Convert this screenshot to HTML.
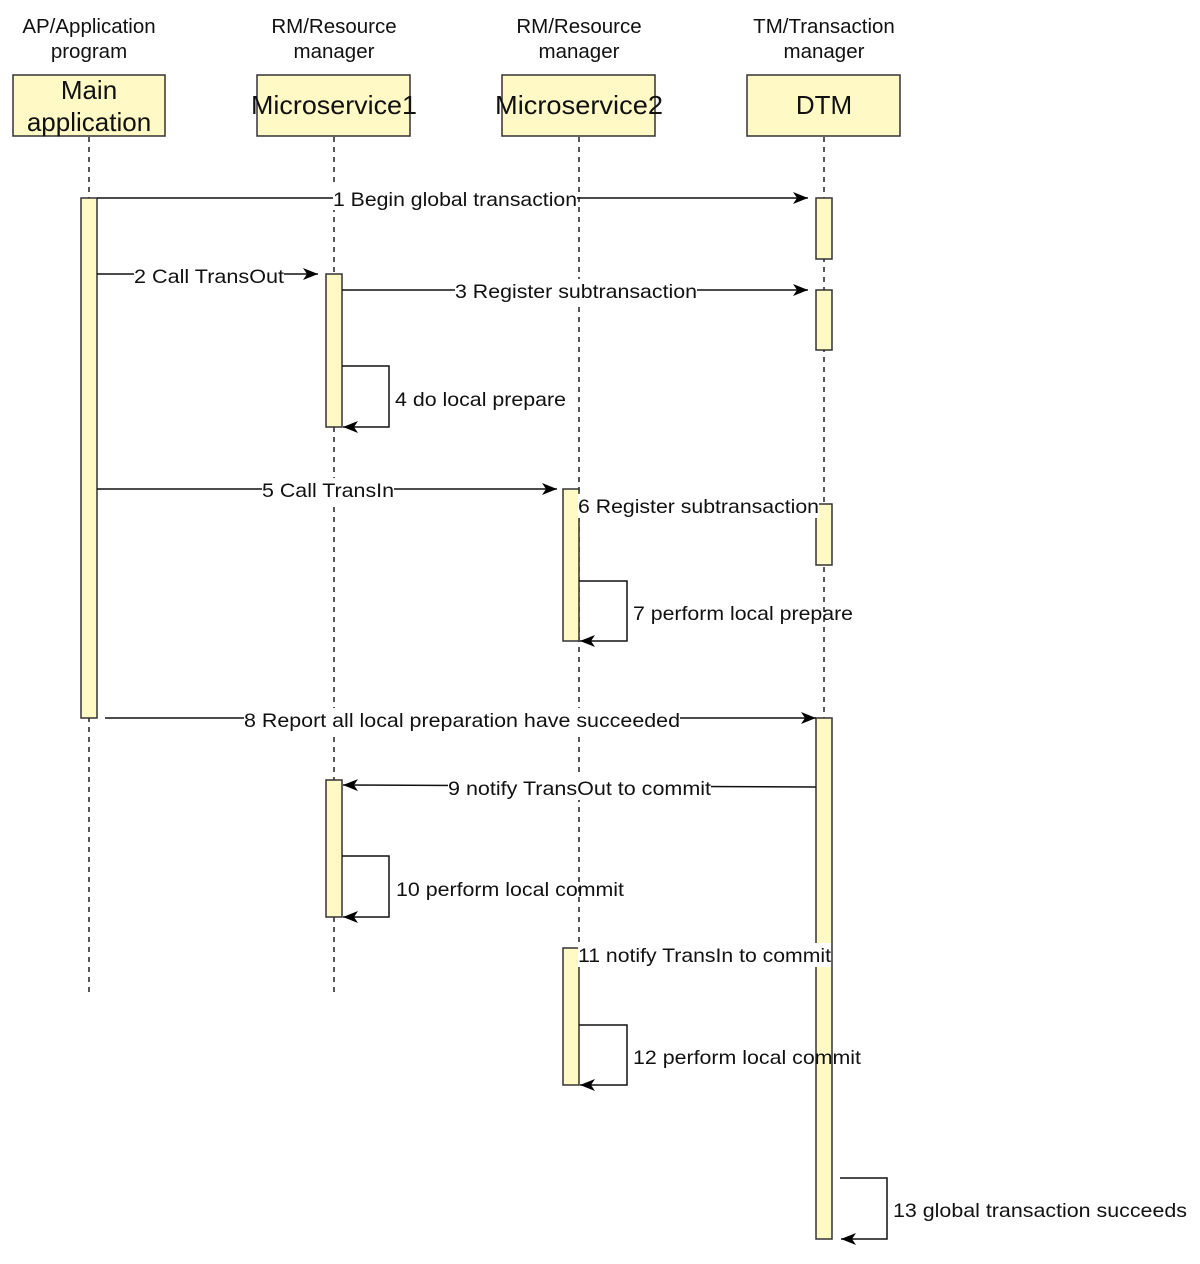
<!DOCTYPE html>
<html><head><meta charset="utf-8"><style>
html,body{margin:0;padding:0;background:#fff;}
svg{display:block;}
text{font-family:"Liberation Sans",Arial,sans-serif;fill:#111;}
</style></head><body>
<svg width="1200" height="1264" viewBox="0 0 1200 1264" xmlns="http://www.w3.org/2000/svg">
<defs>
<marker id="a" markerWidth="16" markerHeight="14" refX="15" refY="7" orient="auto" markerUnits="userSpaceOnUse">
<path d="M0,1 L15,7 L0,13 L4,7 Z" fill="#000"/>
</marker>
</defs>
<g font-size="20.5" text-anchor="middle">
<text x="89" y="33">AP/Application</text><text x="89" y="58">program</text>
<text x="334" y="33">RM/Resource</text><text x="334" y="58">manager</text>
<text x="579" y="33">RM/Resource</text><text x="579" y="58">manager</text>
<text x="824" y="33">TM/Transaction</text><text x="824" y="58">manager</text>
</g>
<g stroke="#222" stroke-width="1.5" stroke-dasharray="5,5" fill="none">
<line x1="89" y1="137" x2="89" y2="994"/>
<line x1="334" y1="137" x2="334" y2="994"/>
<line x1="579" y1="137" x2="579" y2="948"/>
<line x1="824" y1="137" x2="824" y2="718"/>
</g>
<g fill="#fff9c6" stroke="#333" stroke-width="1.5">
<rect x="13" y="75" width="152" height="61"/>
<rect x="257" y="75" width="153" height="61"/>
<rect x="502" y="75" width="153" height="61"/>
<rect x="747" y="75" width="153" height="61"/>
</g>
<g font-size="26" text-anchor="middle">
<text x="89" y="99">Main</text><text x="89" y="131">application</text>
<text x="334" y="114" textLength="166" lengthAdjust="spacingAndGlyphs">Microservice1</text>
<text x="579" y="114" textLength="168" lengthAdjust="spacingAndGlyphs">Microservice2</text>
<text x="824" y="114">DTM</text>
</g>
<g fill="#fff9c6" stroke="#333" stroke-width="1.5">
<rect x="81" y="198" width="16" height="520"/>
<rect x="326" y="274" width="16" height="153"/>
<rect x="326" y="780" width="16" height="137"/>
<rect x="563" y="489" width="16" height="152"/>
<rect x="563" y="948" width="16" height="137"/>
<rect x="816" y="198" width="16" height="61"/>
<rect x="816" y="290" width="16" height="60"/>
<rect x="816" y="504" width="16" height="61"/>
<rect x="816" y="718" width="16" height="521"/>
</g>
<g stroke="#111" stroke-width="1.5" fill="none" marker-end="url(#a)">
<line x1="97" y1="198" x2="808" y2="198"/>
<line x1="97" y1="274" x2="318" y2="274"/>
<line x1="342" y1="290" x2="808" y2="290"/>
<polyline points="342,366 389,366 389,427 343,427"/>
<line x1="97" y1="489" x2="557" y2="489"/>
<polyline points="579,581 627,581 627,641 580,641"/>
<line x1="105" y1="718" x2="816" y2="718"/>
<line x1="816" y1="787" x2="343" y2="785"/>
<polyline points="342,856 389,856 389,917 343,917"/>
<polyline points="579,1025 627,1025 627,1085 580,1085"/>
<polyline points="840,1178 887,1178 887,1239 841,1239"/>
</g>
<g fill="#fff">
<rect x="333" y="186" width="244" height="24"/>
<rect x="134" y="263" width="150" height="24"/>
<rect x="455" y="279" width="242" height="24"/>
<rect x="262" y="478" width="132" height="24"/>
<rect x="578" y="494" width="241" height="24"/>
<rect x="244" y="708" width="436" height="24"/>
<rect x="448" y="776" width="263" height="24"/>
<rect x="578" y="943" width="253" height="24"/>
</g>
<g font-size="19.5">
<text x="333" y="206" textLength="244" lengthAdjust="spacingAndGlyphs">1 Begin global transaction</text>
<text x="134" y="283" textLength="150" lengthAdjust="spacingAndGlyphs">2 Call TransOut</text>
<text x="455" y="298" textLength="242" lengthAdjust="spacingAndGlyphs">3 Register subtransaction</text>
<text x="395" y="406" textLength="171" lengthAdjust="spacingAndGlyphs">4 do local prepare</text>
<text x="262" y="497" textLength="132" lengthAdjust="spacingAndGlyphs">5 Call TransIn</text>
<text x="578" y="513" textLength="241" lengthAdjust="spacingAndGlyphs">6 Register subtransaction</text>
<text x="633" y="620" textLength="220" lengthAdjust="spacingAndGlyphs">7 perform local prepare</text>
<text x="244" y="727" textLength="436" lengthAdjust="spacingAndGlyphs">8 Report all local preparation have succeeded</text>
<text x="448" y="795" textLength="263" lengthAdjust="spacingAndGlyphs">9 notify TransOut to commit</text>
<text x="396" y="896" textLength="228" lengthAdjust="spacingAndGlyphs">10 perform local commit</text>
<text x="578" y="962" textLength="253" lengthAdjust="spacingAndGlyphs">11 notify TransIn to commit</text>
<text x="633" y="1064" textLength="228" lengthAdjust="spacingAndGlyphs">12 perform local commit</text>
<text x="893" y="1217" textLength="294" lengthAdjust="spacingAndGlyphs">13 global transaction succeeds</text>
</g>
</svg>
</body></html>
